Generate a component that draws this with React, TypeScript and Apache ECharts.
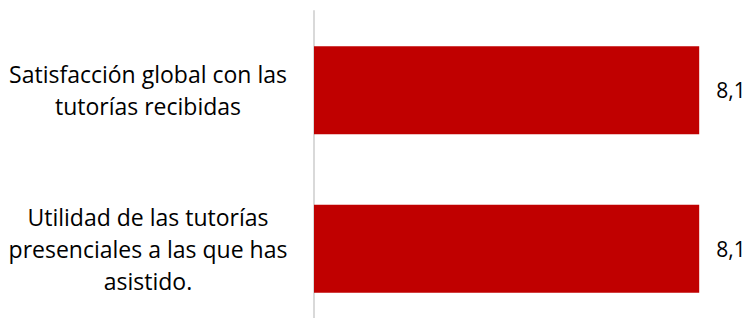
import React, { useEffect, useRef } from "react";
import * as echarts from "echarts";

const categories = [
  "Utilidad de las tutorías\npresenciales a las que has\nasistido.",
  "Satisfacción global con las\ntutorías recibidas",
];
const values = [8.1, 8.1];
const axisMax = 9;

export default function App() {
  const ref = useRef<HTMLDivElement>(null);
  useEffect(() => {
    if (!ref.current) return;
    const chart = echarts.init(ref.current, null, { renderer: "svg" });
    chart.setOption({
      animation: false,
      grid: { left: 314, top: 11, height: 317, right: 6, outerBoundsMode: "none", containLabel: false },
      xAxis: {
        type: "value",
        min: 0,
        max: axisMax,
        show: false,
      },
      yAxis: {
        type: "category",
        data: categories,
        axisLine: { show: true, lineStyle: { color: "#d9d9d9", width: 2 } },
        axisTick: { show: false },
        axisLabel: {
          align: "center",
          margin: 166,
          fontFamily: "Open Sans",
          fontSize: 23,
          lineHeight: 32,
          color: "#000",
        },
      },
      series: [
        {
          type: "bar",
          data: values,
          barCategoryGap: "44.5%",
          itemStyle: { color: "#c00000" },
          label: {
            show: true,
            position: "right",
            distance: 17,
            fontFamily: "Open Sans",
            fontSize: 21,
            color: "#000",
            formatter: (p: any) => String(p.value).replace(".", ","),
          },
        },
      ],
    });
    return () => chart.dispose();
  }, []);
  return (
    <div
      ref={ref}
      style={{ position: "absolute", left: 0, top: 0, width: 748, height: 318 }}
    />
  );
}
